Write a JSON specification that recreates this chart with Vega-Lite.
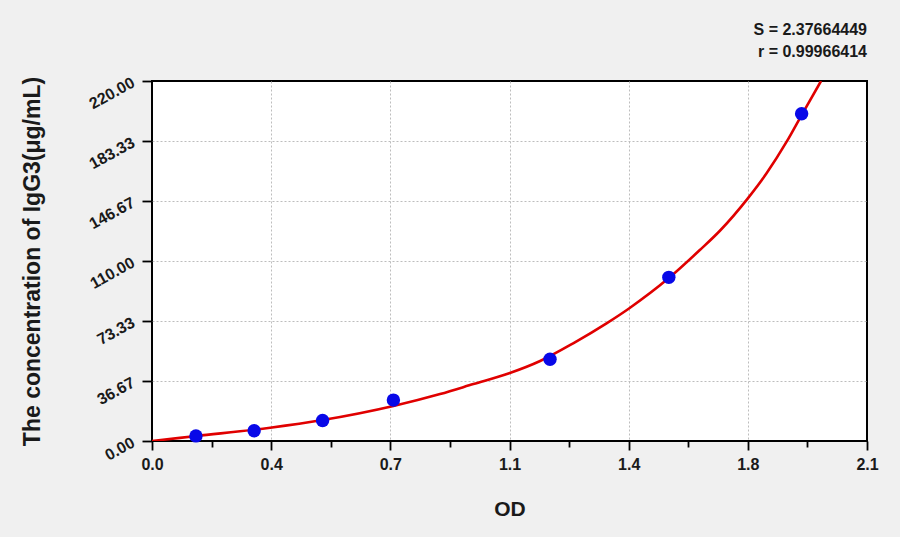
{
  "$schema": "https://vega.github.io/schema/vega-lite/v6.json",
  "autosize": "none",
  "width": 715,
  "height": 360,
  "padding": {"left": 152, "top": 81, "right": 33, "bottom": 96},
  "background": "#f0f0f0",
  "title": {
    "text": ["S = 2.37664449", "r = 0.99966414"],
    "anchor": "end",
    "frame": "group",
    "fontSize": 16,
    "fontWeight": "bold",
    "font": "Liberation Sans",
    "color": "#1a1a1a",
    "lineHeight": 22,
    "offset": 14
  },
  "datasets": {
    "curve": [
      {"od": 0.0, "conc": 0.0},
      {"od": 0.131, "conc": 3.05},
      {"od": 0.347, "conc": 8.1},
      {"od": 0.501, "conc": 12.8},
      {"od": 0.709, "conc": 21.4},
      {"od": 0.846, "conc": 28.7},
      {"od": 0.944, "conc": 34.8},
      {"od": 1.049, "conc": 41.4},
      {"od": 1.14, "conc": 48.9},
      {"od": 1.237, "conc": 59.7},
      {"od": 1.335, "conc": 71.9},
      {"od": 1.401, "conc": 81.0},
      {"od": 1.517, "conc": 99.4},
      {"od": 1.609, "conc": 116.7},
      {"od": 1.668, "conc": 128.5},
      {"od": 1.75, "conc": 148.3},
      {"od": 1.805, "conc": 163.6},
      {"od": 1.864, "conc": 182.9},
      {"od": 1.908, "conc": 199.2},
      {"od": 1.965, "conc": 220.0}
    ],
    "points": [
      {"od": 0.129, "conc": 3.125},
      {"od": 0.300, "conc": 6.25},
      {"od": 0.501, "conc": 12.5},
      {"od": 0.709, "conc": 25},
      {"od": 1.169, "conc": 50},
      {"od": 1.518, "conc": 100},
      {"od": 1.908, "conc": 200}
    ]
  },
  "layer": [
    {
      "data": {"name": "curve"},
      "mark": {"type": "line", "color": "#e00000", "strokeWidth": 2.6, "interpolate": "monotone", "clip": true},
      "encoding": {
        "x": {
          "field": "od",
          "type": "quantitative",
          "title": "OD",
          "scale": {"domain": [0, 2.1], "nice": false, "zero": false},
          "axis": {
            "values": [0, 0.0875, 0.175, 0.2625, 0.35, 0.4375, 0.525, 0.6125, 0.7, 0.7875, 0.875, 0.9625, 1.05, 1.1375, 1.225, 1.3125, 1.4, 1.4875, 1.575, 1.6625, 1.75, 1.8375, 1.925, 2.0125, 2.1],
            "labelExpr": "abs(datum.value/0.35 - round(datum.value/0.35)) < 0.01 ? format(datum.value + 0.000001, '.1f') : ''",
            "labelOverlap": false,
            "labelFlush": false,
            "labelAngle": 0,
            "labelPadding": 6,
            "labelFontSize": 16,
            "tickSize": {"condition": {"test": "abs(datum.value/0.35 - round(datum.value/0.35)) < 0.01", "value": 9}, "value": 6},
            "gridOpacity": {"condition": {"test": "abs(datum.value/0.35 - round(datum.value/0.35)) < 0.01 && datum.value > 0 && datum.value < 2.1", "value": 1}, "value": 0},
            "titleFontSize": 21,
            "titlePadding": 26
          }
        },
        "y": {
          "field": "conc",
          "type": "quantitative",
          "title": "The concentration of IgG3(μg/mL)",
          "scale": {"domain": [0, 220], "nice": false},
          "axis": {
            "values": [0, 9.1667, 18.3333, 27.5, 36.6667, 45.8333, 55, 64.1667, 73.3333, 82.5, 91.6667, 100.8333, 110, 119.1667, 128.3333, 137.5, 146.6667, 155.8333, 165, 174.1667, 183.3333, 192.5, 201.6667, 210.8333, 220],
            "labelExpr": "abs(datum.value/36.6667 - round(datum.value/36.6667)) < 0.01 ? format(datum.value, '.2f') : ''",
            "labelOverlap": false,
            "labelFlush": false,
            "labelAngle": -29,
            "labelAlign": "right",
            "labelBaseline": "middle",
            "labelPadding": 9,
            "labelFontSize": 16,
            "tickSize": {"condition": {"test": "abs(datum.value/36.6667 - round(datum.value/36.6667)) < 0.01", "value": 10}, "value": 5},
            "gridOpacity": {"condition": {"test": "abs(datum.value/36.6667 - round(datum.value/36.6667)) < 0.01 && datum.value > 0 && datum.value < 219", "value": 1}, "value": 0},
            "titleFontSize": 23,
            "titlePadding": 42
          }
        }
      }
    },
    {
      "data": {"name": "points"},
      "mark": {"type": "circle", "color": "#0808e8", "opacity": 1, "size": 180},
      "encoding": {
        "x": {"field": "od", "type": "quantitative"},
        "y": {"field": "conc", "type": "quantitative"}
      }
    }
  ],
  "config": {
    "font": "Liberation Sans",
    "view": {"fill": "white", "stroke": "black", "strokeWidth": 2},
    "axis": {
      "domain": false,
      "grid": true,
      "gridColor": "#bdbdbd",
      "gridDash": [2, 2],
      "gridWidth": 1,
      "tickColor": "black",
      "tickWidth": 1.8,
      "labelFont": "Liberation Sans",
      "labelFontWeight": "bold",
      "labelColor": "#1a1a1a",
      "titleFont": "Liberation Sans",
      "titleFontWeight": "bold",
      "titleColor": "#1a1a1a"
    }
  }
}
